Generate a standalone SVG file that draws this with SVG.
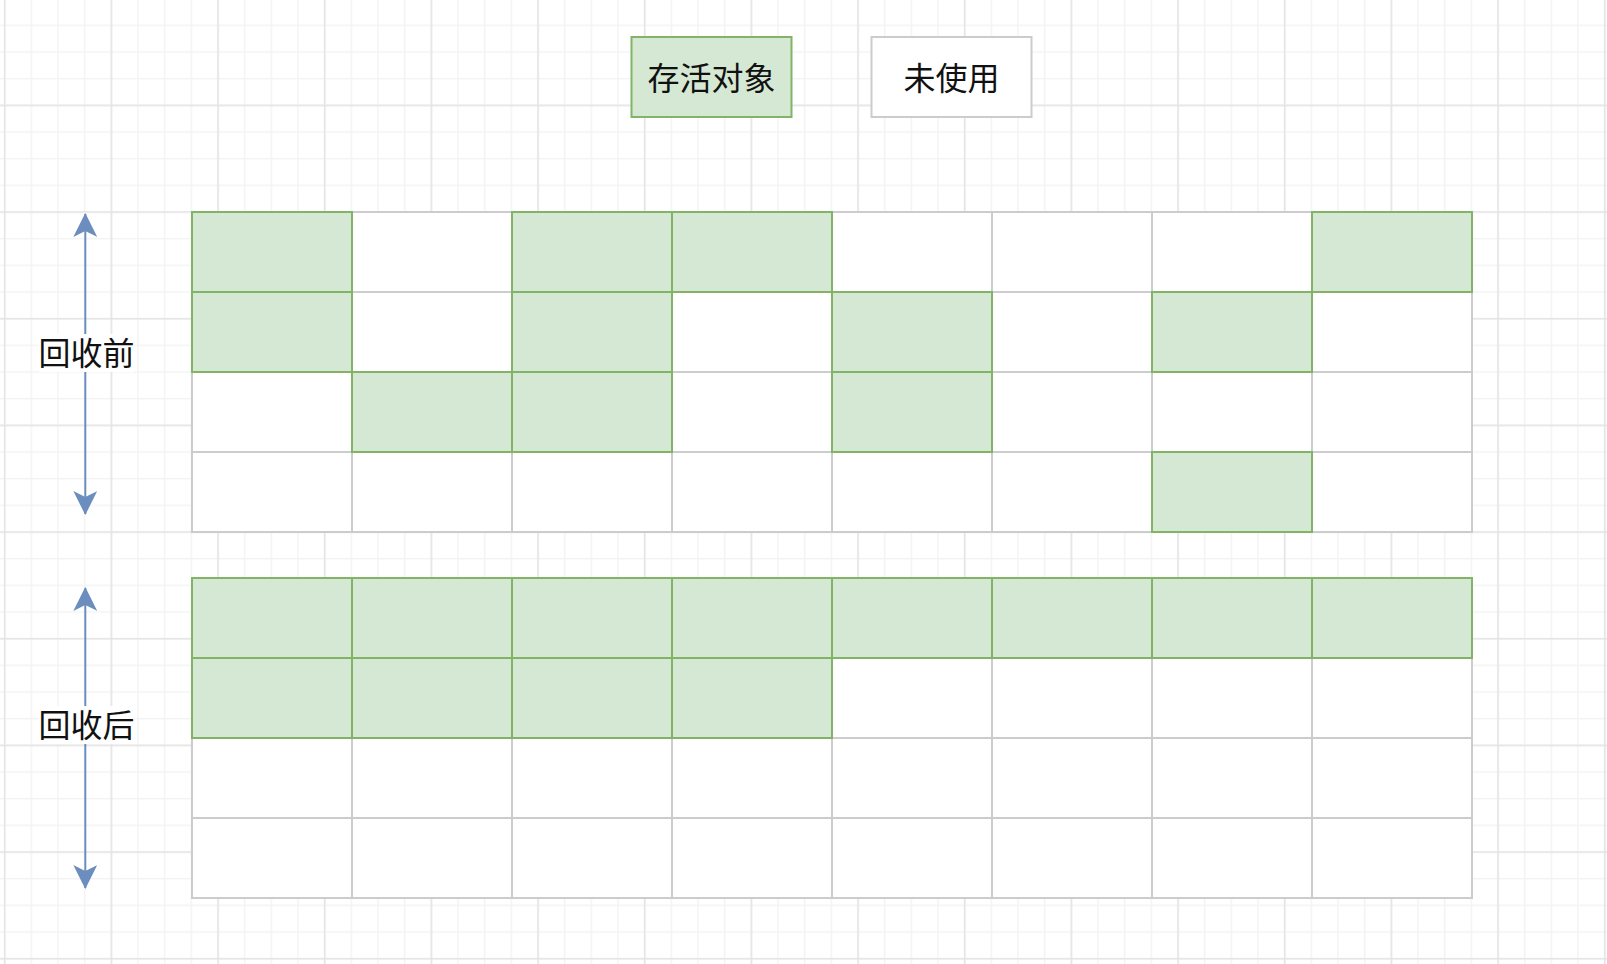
<svg xmlns="http://www.w3.org/2000/svg" width="1607" height="964" viewBox="0 0 1607 964">
<defs>
<style>
.g{fill:#d5e8d4;stroke:#82b366;stroke-width:2}
.w{fill:#ffffff;stroke:#cccccc;stroke-width:2}
.t{font-family:"Noto Sans CJK SC","Noto Sans",sans-serif;font-size:32px;fill:#111111;text-anchor:middle}
.arr{stroke:#6c8ebf;stroke-width:2;fill:none}
</style>
<pattern id="minor" width="26.667" height="26.667" patternUnits="userSpaceOnUse" x="3.92" y="-2.08">
<path d="M0 0.75H26.667M0.75 0V26.667" stroke="#f3f3f3" stroke-width="1.5" fill="none"/>
</pattern>
<pattern id="major" width="106.667" height="106.667" patternUnits="userSpaceOnUse" x="3.92" y="-2.08">
<path d="M0 0.75H106.667M0.75 0V106.667" stroke="#e4e4e4" stroke-width="1.5" fill="none"/>
</pattern>
<marker id="ah" viewBox="0 0 24 24" refX="23" refY="12" markerWidth="24" markerHeight="24" markerUnits="userSpaceOnUse" orient="auto-start-reverse">
<path d="M0 0L24 12L0 24L6 12Z" fill="#6c8ebf"/>
</marker>
</defs>
<rect width="1607" height="964" fill="#ffffff"/>
<rect width="1607" height="964" fill="url(#minor)"/>
<rect width="1607" height="964" fill="url(#major)"/>

<g id="legend-alive"><rect class="g" x="631.5" y="37" width="160" height="80"/><text class="t" x="711.5" y="90">存活对象</text></g>
<g id="legend-unused"><rect class="w" x="871.5" y="37" width="160" height="80"/><text class="t" x="951.5" y="90">未使用</text></g>

<g id="connectors">
<line class="arr" x1="85.3" y1="214" x2="85.3" y2="514" marker-start="url(#ah)" marker-end="url(#ah)"/>
<line class="arr" x1="85.3" y1="588" x2="85.3" y2="888" marker-start="url(#ah)" marker-end="url(#ah)"/>
</g>
<g id="label-before"><rect x="39" y="334" width="95" height="38" fill="#ffffff"/><text class="t" x="86.5" y="365">回收前</text></g>
<g id="label-after"><rect x="39" y="706" width="95" height="38" fill="#ffffff"/><text class="t" x="86.5" y="737">回收后</text></g>

<g id="before">
<g id="b-r0c1"><rect class="w" x="352" y="212" width="160" height="80"/></g>
<g id="b-r0c4"><rect class="w" x="832" y="212" width="160" height="80"/></g>
<g id="b-r0c5"><rect class="w" x="992" y="212" width="160" height="80"/></g>
<g id="b-r0c6"><rect class="w" x="1152" y="212" width="160" height="80"/></g>
<g id="b-r1c1"><rect class="w" x="352" y="292" width="160" height="80"/></g>
<g id="b-r1c3"><rect class="w" x="672" y="292" width="160" height="80"/></g>
<g id="b-r1c5"><rect class="w" x="992" y="292" width="160" height="80"/></g>
<g id="b-r1c7"><rect class="w" x="1312" y="292" width="160" height="80"/></g>
<g id="b-r2c0"><rect class="w" x="192" y="372" width="160" height="80"/></g>
<g id="b-r2c3"><rect class="w" x="672" y="372" width="160" height="80"/></g>
<g id="b-r2c5"><rect class="w" x="992" y="372" width="160" height="80"/></g>
<g id="b-r2c6"><rect class="w" x="1152" y="372" width="160" height="80"/></g>
<g id="b-r2c7"><rect class="w" x="1312" y="372" width="160" height="80"/></g>
<g id="b-r3c0"><rect class="w" x="192" y="452" width="160" height="80"/></g>
<g id="b-r3c1"><rect class="w" x="352" y="452" width="160" height="80"/></g>
<g id="b-r3c2"><rect class="w" x="512" y="452" width="160" height="80"/></g>
<g id="b-r3c3"><rect class="w" x="672" y="452" width="160" height="80"/></g>
<g id="b-r3c4"><rect class="w" x="832" y="452" width="160" height="80"/></g>
<g id="b-r3c5"><rect class="w" x="992" y="452" width="160" height="80"/></g>
<g id="b-r3c7"><rect class="w" x="1312" y="452" width="160" height="80"/></g>
<g id="b-r0c0"><rect class="g" x="192" y="212" width="160" height="80"/></g>
<g id="b-r0c2"><rect class="g" x="512" y="212" width="160" height="80"/></g>
<g id="b-r0c3"><rect class="g" x="672" y="212" width="160" height="80"/></g>
<g id="b-r0c7"><rect class="g" x="1312" y="212" width="160" height="80"/></g>
<g id="b-r1c0"><rect class="g" x="192" y="292" width="160" height="80"/></g>
<g id="b-r1c2"><rect class="g" x="512" y="292" width="160" height="80"/></g>
<g id="b-r1c4"><rect class="g" x="832" y="292" width="160" height="80"/></g>
<g id="b-r1c6"><rect class="g" x="1152" y="292" width="160" height="80"/></g>
<g id="b-r2c1"><rect class="g" x="352" y="372" width="160" height="80"/></g>
<g id="b-r2c2"><rect class="g" x="512" y="372" width="160" height="80"/></g>
<g id="b-r2c4"><rect class="g" x="832" y="372" width="160" height="80"/></g>
<g id="b-r3c6"><rect class="g" x="1152" y="452" width="160" height="80"/></g>
</g>

<g id="after">
<g id="a-r1c4"><rect class="w" x="832" y="658" width="160" height="80"/></g>
<g id="a-r1c5"><rect class="w" x="992" y="658" width="160" height="80"/></g>
<g id="a-r1c6"><rect class="w" x="1152" y="658" width="160" height="80"/></g>
<g id="a-r1c7"><rect class="w" x="1312" y="658" width="160" height="80"/></g>
<g id="a-r2c0"><rect class="w" x="192" y="738" width="160" height="80"/></g>
<g id="a-r2c1"><rect class="w" x="352" y="738" width="160" height="80"/></g>
<g id="a-r2c2"><rect class="w" x="512" y="738" width="160" height="80"/></g>
<g id="a-r2c3"><rect class="w" x="672" y="738" width="160" height="80"/></g>
<g id="a-r2c4"><rect class="w" x="832" y="738" width="160" height="80"/></g>
<g id="a-r2c5"><rect class="w" x="992" y="738" width="160" height="80"/></g>
<g id="a-r2c6"><rect class="w" x="1152" y="738" width="160" height="80"/></g>
<g id="a-r2c7"><rect class="w" x="1312" y="738" width="160" height="80"/></g>
<g id="a-r3c0"><rect class="w" x="192" y="818" width="160" height="80"/></g>
<g id="a-r3c1"><rect class="w" x="352" y="818" width="160" height="80"/></g>
<g id="a-r3c2"><rect class="w" x="512" y="818" width="160" height="80"/></g>
<g id="a-r3c3"><rect class="w" x="672" y="818" width="160" height="80"/></g>
<g id="a-r3c4"><rect class="w" x="832" y="818" width="160" height="80"/></g>
<g id="a-r3c5"><rect class="w" x="992" y="818" width="160" height="80"/></g>
<g id="a-r3c6"><rect class="w" x="1152" y="818" width="160" height="80"/></g>
<g id="a-r3c7"><rect class="w" x="1312" y="818" width="160" height="80"/></g>
<g id="a-r0c0"><rect class="g" x="192" y="578" width="160" height="80"/></g>
<g id="a-r0c1"><rect class="g" x="352" y="578" width="160" height="80"/></g>
<g id="a-r0c2"><rect class="g" x="512" y="578" width="160" height="80"/></g>
<g id="a-r0c3"><rect class="g" x="672" y="578" width="160" height="80"/></g>
<g id="a-r0c4"><rect class="g" x="832" y="578" width="160" height="80"/></g>
<g id="a-r0c5"><rect class="g" x="992" y="578" width="160" height="80"/></g>
<g id="a-r0c6"><rect class="g" x="1152" y="578" width="160" height="80"/></g>
<g id="a-r0c7"><rect class="g" x="1312" y="578" width="160" height="80"/></g>
<g id="a-r1c0"><rect class="g" x="192" y="658" width="160" height="80"/></g>
<g id="a-r1c1"><rect class="g" x="352" y="658" width="160" height="80"/></g>
<g id="a-r1c2"><rect class="g" x="512" y="658" width="160" height="80"/></g>
<g id="a-r1c3"><rect class="g" x="672" y="658" width="160" height="80"/></g>
</g>
</svg>
